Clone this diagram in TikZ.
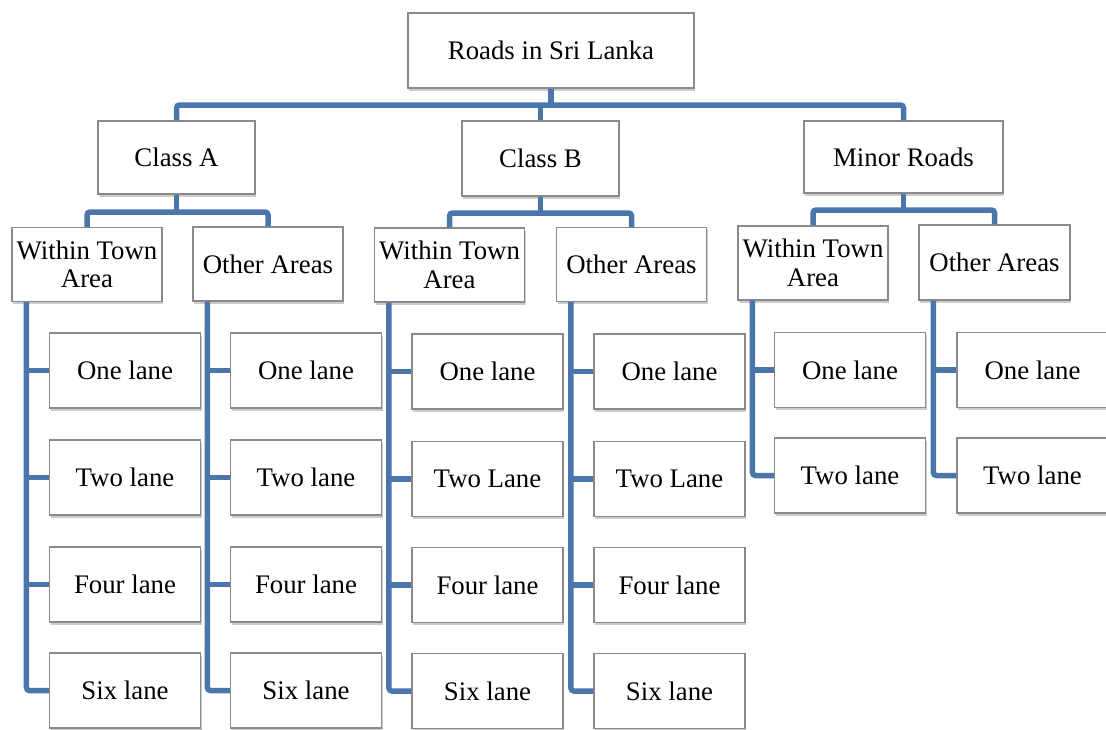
\documentclass[tikz,border=0pt]{standalone}
\usepackage{fontspec}
\setmainfont{Liberation Serif}
\usetikzlibrary{shadows}
\definecolor{conncol}{RGB}{74,118,172}
\definecolor{boxline}{RGB}{138,138,138}
\tikzset{
  box/.style={draw=boxline, line width=1.1pt, fill=white, inner sep=0pt, align=center,
    font=\fontsize{26.8}{28.5}\selectfont,
    drop shadow={shadow xshift=1.2pt, shadow yshift=-2.5pt, fill=black, opacity=0.2}},
  leaf/.style={box, minimum width=151pt, minimum height=75pt},
  mid/.style={box, minimum width=150pt, minimum height=74pt},
  conn/.style={draw=conncol, line width=5.5pt, rounded corners=3pt}
}
\begin{document}
\begin{tikzpicture}[x=1pt,y=-1pt]
\useasboundingbox (0,0) rectangle (1106,729);
\clip (0,0) rectangle (1106,729);
\coordinate (busL) at (0,105);
% nodes
\node[box, minimum width=286pt, minimum height=75pt] (root) at (551,50.5) {Roads in Sri Lanka};
\node[box, minimum width=157pt, minimum height=73pt] (cA) at (176.5,157.5) {Class A};
\node[box, minimum width=157pt, minimum height=75pt] (cB) at (540.5,158.5) {Class B};
\node[box, minimum width=199pt, minimum height=72pt] (cM) at (903.5,157) {Minor Roads};
\node[mid] (wA) at (87,264.5) {Within Town\\Area};
\node[mid] (oA) at (268,264) {Other Areas};
\node[mid] (wB) at (449.5,265) {Within Town\\Area};
\node[mid] (oB) at (631.5,264.5) {Other Areas};
\node[mid] (wM) at (813,263) {Within Town\\Area};
\node[mid, minimum width=151pt, minimum height=75pt] (oM) at (994.5,262.5) {Other Areas};
% leaves
\node[leaf] (a1) at (125,370.5) {One lane};
\node[leaf] (a2) at (125,477.5) {Two lane};
\node[leaf] (a3) at (125,584.5) {Four lane};
\node[leaf] (a4) at (125,690.5) {Six lane};
\node[leaf] (b1) at (306,370.5) {One lane};
\node[leaf] (b2) at (306,477.5) {Two lane};
\node[leaf] (b3) at (306,584.5) {Four lane};
\node[leaf] (b4) at (306,690.5) {Six lane};
\node[leaf] (c1) at (487.5,371.5) {One lane};
\node[leaf] (c2) at (487.5,479) {Two Lane};
\node[leaf] (c3) at (487.5,585) {Four lane};
\node[leaf] (c4) at (487.5,691) {Six lane};
\node[leaf] (d1) at (669.5,371.5) {One lane};
\node[leaf] (d2) at (669.5,479) {Two Lane};
\node[leaf] (d3) at (669.5,585) {Four lane};
\node[leaf] (d4) at (669.5,691) {Six lane};
\node[leaf] (e1) at (850,370) {One lane};
\node[leaf] (e2) at (850,475.5) {Two lane};
\node[leaf] (f1) at (1032.5,370) {One lane};
\node[leaf] (f2) at (1032.5,475.5) {Two lane};
% main bus
\draw[conn] (cA.north) |- (cM.north |- busL) -- (cM.north);
\draw[conn] (root.south) -- (root.south |- busL);
\draw[conn] (cB.north) -- (cB.north |- busL);
% level 2 buses
\coordinate (sA) at (0,212);
\coordinate (sB) at (0,213);
\coordinate (sM) at (0,210);
\draw[conn] (wA.north) |- (oA.north |- sA) -- (oA.north);
\draw[conn] (cA.south) -- (cA.south |- sA);
\draw[conn] (wB.north) |- (oB.north |- sB) -- (oB.north);
\draw[conn] (cB.south) -- (cB.south |- sB);
\draw[conn] (wM.north) |- (oM.north |- sM) -- (oM.north);
\draw[conn] (cM.south) -- (cM.south |- sM);
% leaf lines
\coordinate (lA) at ([xshift=15pt]wA.south west);
\coordinate (lB) at ([xshift=15pt]oA.south west);
\coordinate (lC) at ([xshift=15pt]wB.south west);
\coordinate (lD) at ([xshift=15pt]oB.south west);
\coordinate (lE) at ([xshift=15pt]wM.south west);
\coordinate (lF) at ([xshift=15pt]oM.south west);
\draw[conn] (lA) |- (a4.west);
\draw[conn] (lA |- a1.west) -- (a1.west);
\draw[conn] (lA |- a2.west) -- (a2.west);
\draw[conn] (lA |- a3.west) -- (a3.west);
\draw[conn] (lB) |- (b4.west);
\draw[conn] (lB |- b1.west) -- (b1.west);
\draw[conn] (lB |- b2.west) -- (b2.west);
\draw[conn] (lB |- b3.west) -- (b3.west);
\draw[conn] (lC) |- (c4.west);
\draw[conn] (lC |- c1.west) -- (c1.west);
\draw[conn] (lC |- c2.west) -- (c2.west);
\draw[conn] (lC |- c3.west) -- (c3.west);
\draw[conn] (lD) |- (d4.west);
\draw[conn] (lD |- d1.west) -- (d1.west);
\draw[conn] (lD |- d2.west) -- (d2.west);
\draw[conn] (lD |- d3.west) -- (d3.west);
\draw[conn] (lE) |- (e2.west);
\draw[conn] (lE |- e1.west) -- (e1.west);
\draw[conn] (lF) |- (f2.west);
\draw[conn] (lF |- f1.west) -- (f1.west);
\end{tikzpicture}
\end{document}
